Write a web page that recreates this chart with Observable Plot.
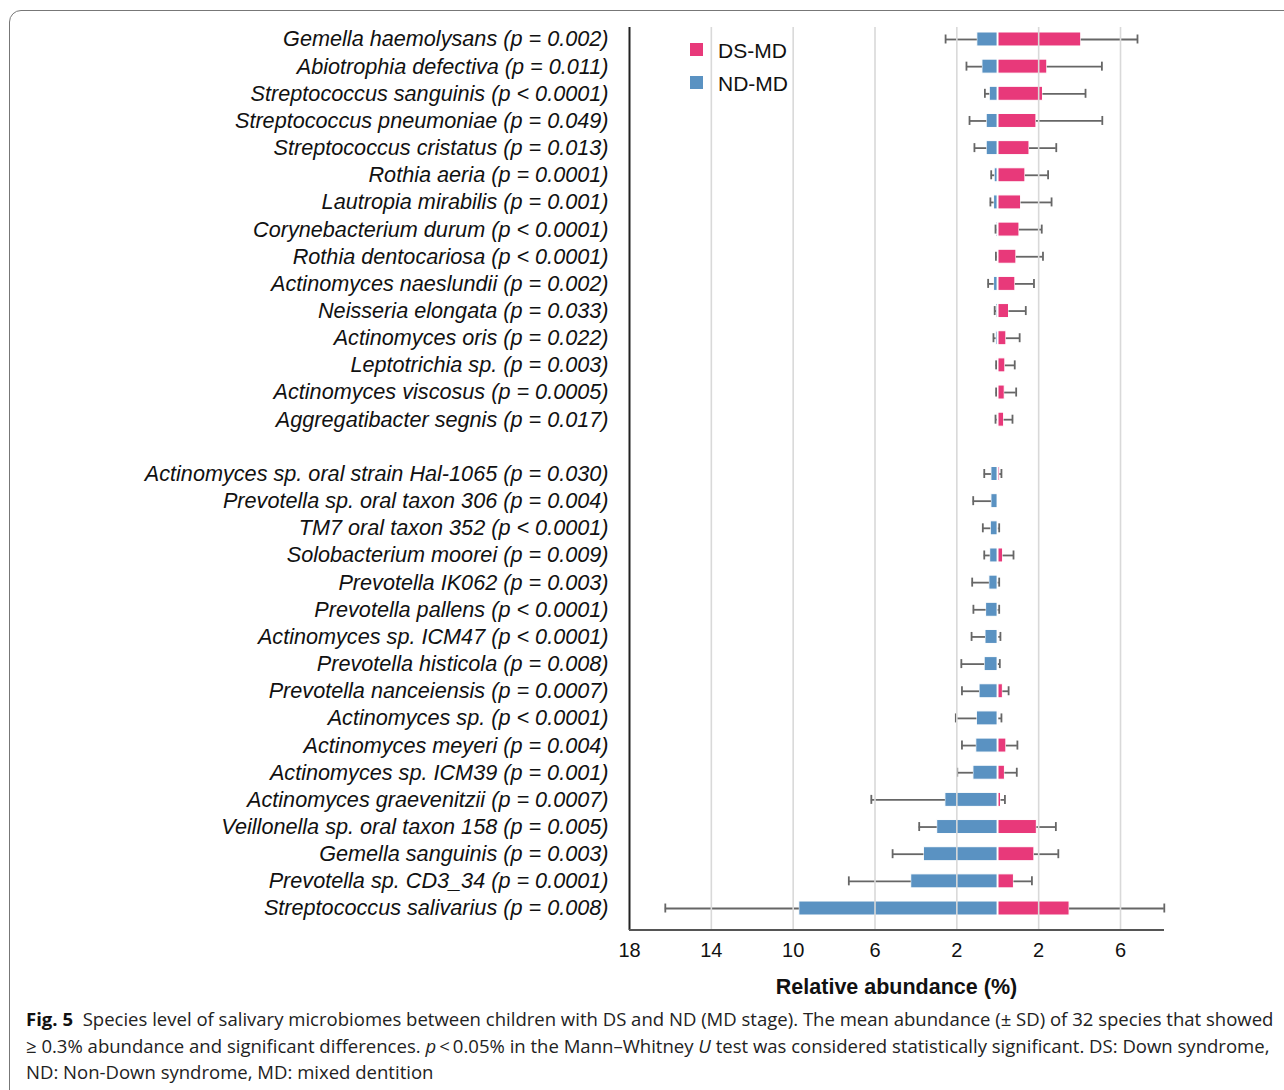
<!DOCTYPE html>
<html>
<head>
<meta charset="utf-8">
<script src="https://cdn.jsdelivr.net/npm/d3@7"></script>
<script src="https://cdn.jsdelivr.net/npm/@observablehq/plot@0.6"></script>
<style>
  html, body { margin: 0; padding: 0; background: #fff; }
  #page { position: relative; width: 1284px; height: 1090px; overflow: hidden; font-family: "Liberation Sans", Arial, sans-serif; }
  #box { position: absolute; left: 9px; top: 10px; width: 1320px; height: 1100px; border: 1.5px solid #777; border-radius: 12px; box-sizing: border-box; }
  #chart { position: absolute; left: 0; top: 0; }
  .leg { position: absolute; left: 690px; font-size: 21px; color: #111; line-height: 21px; }
  .leg span.sw { position: absolute; left: 0; top: 3px; width: 13px; height: 13px; }
  .leg span.tx { position: absolute; left: 28px; top: 0; white-space: nowrap; }
  #xlabel { position: absolute; left: 629px; width: 535px; top: 975px; text-align: center; font-weight: bold; font-size: 21.5px; color: #111; }
  #caption { position: absolute; left: 26px; top: 1006px; width: 1260px; font-family: "Open Sans", sans-serif; font-size: 18.55px; line-height: 26.5px; color: #222; letter-spacing: 0; white-space: nowrap; }
  #caption b { font-weight: 700; color: #111; }
</style>
</head>
<body>
<div id="page">
  <div id="box"></div>
  <div id="chart"></div>
  <div class="leg" style="top:40px"><span class="sw" id="sw1"></span><span class="tx">DS-MD</span></div>
  <div class="leg" style="top:73px"><span class="sw" id="sw2"></span><span class="tx">ND-MD</span></div>
  <div id="xlabel">Relative abundance (%)</div>
  <div id="caption"><b>Fig. 5</b>&nbsp; Species level of salivary microbiomes between children with DS and ND (MD stage). The mean abundance (± SD) of 32 species that showed<br>≥ 0.3% abundance and significant differences. <i>p</i>&thinsp;&lt;&thinsp;0.05% in the Mann–Whitney <i>U</i> test was considered statistically significant. DS: Down syndrome,<br>ND: Non-Down syndrome, MD: mixed dentition</div>
</div>
<script>
// ---- data ----
const species = [
  "Gemella haemolysans (p = 0.002)",
  "Abiotrophia defectiva (p = 0.011)",
  "Streptococcus sanguinis (p < 0.0001)",
  "Streptococcus pneumoniae (p = 0.049)",
  "Streptococcus cristatus (p = 0.013)",
  "Rothia aeria (p = 0.0001)",
  "Lautropia mirabilis (p = 0.001)",
  "Corynebacterium durum (p < 0.0001)",
  "Rothia dentocariosa (p < 0.0001)",
  "Actinomyces naeslundii (p = 0.002)",
  "Neisseria elongata (p = 0.033)",
  "Actinomyces oris (p = 0.022)",
  "Leptotrichia sp. (p = 0.003)",
  "Actinomyces viscosus (p = 0.0005)",
  "Aggregatibacter segnis (p = 0.017)",
  "Actinomyces sp. oral strain Hal-1065 (p = 0.030)",
  "Prevotella sp. oral taxon 306 (p = 0.004)",
  "TM7 oral taxon 352 (p < 0.0001)",
  "Solobacterium moorei (p = 0.009)",
  "Prevotella IK062 (p = 0.003)",
  "Prevotella pallens (p < 0.0001)",
  "Actinomyces sp. ICM47 (p < 0.0001)",
  "Prevotella histicola (p = 0.008)",
  "Prevotella nanceiensis (p = 0.0007)",
  "Actinomyces sp. (p < 0.0001)",
  "Actinomyces meyeri (p = 0.004)",
  "Actinomyces sp. ICM39 (p = 0.001)",
  "Actinomyces graevenitzii (p = 0.0007)",
  "Veillonella sp. oral taxon 158 (p = 0.005)",
  "Gemella sanguinis (p = 0.003)",
  "Prevotella sp. CD3_34 (p = 0.0001)",
  "Streptococcus salivarius (p = 0.008)"
];
// ND-MD mean and SD (drawn to the left)
const ndMean = [1.00, 0.75, 0.39, 0.54, 0.54, 0.15, 0.18, 0.05, 0.04, 0.18, 0.06, 0.08, 0.03, 0.03, 0.03,
                0.31, 0.31, 0.34, 0.37, 0.41, 0.57, 0.60, 0.64, 0.89, 1.02, 1.05, 1.19, 2.56, 2.96, 3.61, 4.23, 9.70];
const ndSD   = [1.55, 0.78, 0.24, 0.84, 0.60, 0.17, 0.18, 0.06, 0.05, 0.29, 0.09, 0.13, 0.05, 0.05, 0.08,
                0.35, 0.89, 0.39, 0.29, 0.84, 0.62, 0.68, 1.14, 0.86, 1.03, 0.70, 0.79, 3.62, 0.88, 1.53, 3.05, 6.55];
// DS-MD mean and SD (drawn to the right)
const dsMean = [4.08, 2.42, 2.21, 1.89, 1.55, 1.35, 1.14, 1.06, 0.91, 0.86, 0.55, 0.42, 0.37, 0.34, 0.31,
                0.10, 0.02, 0.03, 0.26, 0.02, 0.02, 0.05, 0.03, 0.25, 0.05, 0.42, 0.35, 0.16, 1.91, 1.79, 0.79, 3.51];
const dsSD   = [2.75, 2.67, 2.08, 3.22, 1.31, 1.11, 1.49, 1.09, 1.30, 0.91, 0.82, 0.65, 0.46, 0.56, 0.41,
                0.08, 0.00, 0.04, 0.51, 0.05, 0.05, 0.08, 0.07, 0.28, 0.13, 0.54, 0.58, 0.19, 0.93, 1.17, 0.88, 4.63];
const xTicks = [-18, -14, -10, -6, -2, 2, 6];
const gridTicks = [-14, -10, -6, -2, 2, 6];
const groupBreak = 15; // blank row inserted before this index

const colDS = "#e8397a";
const colND = "#5a92c2";
document.getElementById("sw1").style.background = colDS;
document.getElementById("sw2").style.background = colND;

const rows = species.map((s, i) => ({s, nd: ndMean[i], ndsd: ndSD[i], ds: dsMean[i], dssd: dsSD[i]}));
const yDomain = [...species.slice(0, groupBreak), " ", ...species.slice(groupBreak)];

const W = 1284, H = 1000, mL = 629, mR = 120, mT = 27, mB = 70;
const whisk = {stroke: "#666", strokeWidth: 1.8};

const plot = Plot.plot({
  width: W, height: H,
  marginLeft: mL, marginRight: mR, marginTop: mT, marginBottom: mB,
  style: {fontFamily: "'Liberation Sans', Arial, sans-serif", fontSize: "21px", color: "#111", background: "transparent", overflow: "visible"},
  x: {domain: [-18, 8.15]},
  y: {type: "band", domain: yDomain, paddingInner: 0.485, paddingOuter: 0.184, insetBottom: 10, round: false},
  marks: [
    Plot.barX(rows, {y: "s", x1: 0, x2: d => -d.nd, fill: colND, stroke: "white", strokeWidth: 1}),
    Plot.barX(rows, {y: "s", x1: 0, x2: d => d.ds, fill: colDS, stroke: "white", strokeWidth: 1}),
    Plot.ruleX([0], {stroke: "white", strokeWidth: 1.5}),
    Plot.ruleY(rows, {y: "s", x1: d => -d.nd, x2: d => -(d.nd + d.ndsd), ...whisk}),
    Plot.tickX(rows, {y: "s", x: d => -(d.nd + d.ndsd), insetTop: 2.5, insetBottom: 2.5, ...whisk}),
    Plot.ruleY(rows.filter(d => d.dssd > 0), {y: "s", x1: d => d.ds, x2: d => d.ds + d.dssd, ...whisk}),
    Plot.tickX(rows.filter(d => d.dssd > 0), {y: "s", x: d => d.ds + d.dssd, insetTop: 2.5, insetBottom: 2.5, ...whisk}),
    Plot.ruleX(gridTicks, {stroke: "#d9d9d9", strokeWidth: 1.6}),
    Plot.ruleX([-18], {stroke: "#222", strokeWidth: 2}),
    Plot.axisY({tickSize: 0, tickPadding: 21, fontStyle: "italic", fontSize: 21.65, label: null}),
    Plot.axisX(xTicks, {tickSize: 0, tickPadding: 12, fontSize: 20, tickFormat: d => Math.abs(d), label: null})
  ]
});

// bottom axis line using the plot's x scale
const xs = plot.scale("x");
d3.select(plot).append("line")
  .attr("x1", xs.apply(-18)).attr("x2", xs.apply(8.15))
  .attr("y1", H - mB).attr("y2", H - mB)
  .attr("stroke", "#555").attr("stroke-width", 2);

document.getElementById("chart").appendChild(plot);
</script>
</body>
</html>
